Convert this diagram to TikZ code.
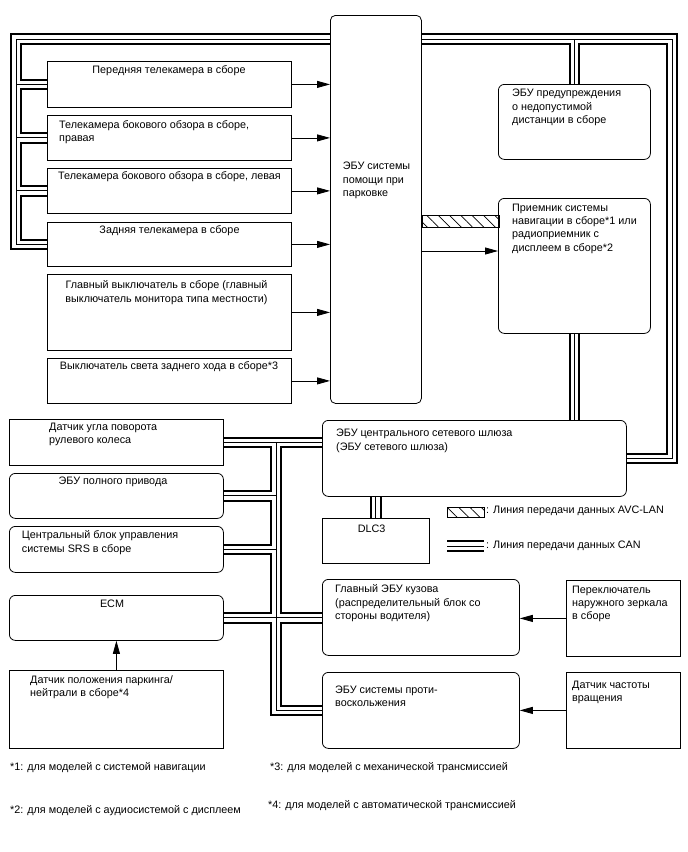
\documentclass[tikz,border=0pt]{standalone}
\usepackage{fontspec}
\setmainfont{Liberation Sans}
\usetikzlibrary{arrows.meta,positioning,backgrounds,patterns.meta}

\begin{document}
\begin{tikzpicture}[x=1pt,y=-1pt,font=\fontsize{10.8}{13.3}\selectfont,>={Triangle[length=13pt,width=7pt]}]
    \tikzset{box/.style={draw,line width=0.8pt,fill=white,anchor=north west,inner sep=0pt,minimum width=244pt,minimum height=45pt},
      rbox/.style={box,rounded corners=6pt},
      txt/.style={inner sep=0pt,align=left,anchor=north west},
      ctxt/.style={inner sep=0pt,align=center,anchor=north},
      can/.style={draw=white,line width=7.5pt,preaction={draw=black,line width=11.5pt},postaction={draw=black,line width=0.9pt}},
      avc/.style={draw,line width=0.8pt,inner sep=0pt,anchor=north west,pattern={Lines[angle=-45,distance=8pt,line width=0.7pt]}},
      sig/.style={->,line width=0.8pt}}
    \useasboundingbox (0,0) rectangle (688,852);
    % cameras and switches
    \node[box,minimum height=46pt] (frontcam) at (47,61) {};
    \node[box] (rightcam) at (47,115) {};
    \node[box] (leftcam) at (47,168) {};
    \node[box,minimum height=44pt] (rearcam) at (47,222) {};
    \node[box,minimum height=76pt] (mainsw) at (47,274) {};
    \node[box] (revsw) at (47,358) {};
    \node[ctxt] (frontcamt) at (169,65.5) {Передняя телекамера в сборе};
    \node[txt] (rightcamt) at (59,120.5) {Телекамера бокового обзора в сборе,\\правая};
    \node[ctxt] (leftcamt) at (169.5,171.5) {Телекамера бокового обзора в сборе, левая};
    \node[ctxt] (rearcamt) at (169.5,225) {Задняя телекамера в сборе};
    \node[ctxt] (mainswt) at (166.5,280.5) {Главный выключатель в сборе (главный\\выключатель монитора типа местности)};
    \node[ctxt] (revswt) at (169,361.5) {Выключатель света заднего хода в сборе*3};
    % ECUs
    \node[box,rounded corners=5pt,minimum width=91pt,minimum height=388pt] (pecu) at (330,15) {};
    \node[txt] (pecut) at (342.7,162) {ЭБУ системы\\помощи при\\парковке};
    \node[rbox,minimum width=152pt,minimum height=75pt] (warn) at (498,84) {};
    \node[txt] (warnt) at (512,89) {ЭБУ предупреждения\\о недопустимой\\дистанции в сборе};
    \node[rbox,minimum width=152pt,minimum height=135pt] (nav) at (498,198) {};
    \node[txt] (navt) at (512,203.5) {Приемник системы\\навигации в сборе*1 или\\радиоприемник с\\дисплеем в сборе*2};
    \node[rbox,minimum width=304pt,minimum height=76pt] (gw) at (322,420) {};
    \node[txt] (gwt) at (336,429) {ЭБУ центрального сетевого шлюза\\(ЭБУ сетевого шлюза)};
    \node[box,minimum width=107pt] (dlc) at (322,518) {};
    \node[ctxt] (dlct) at (371.7,525) {DLC3};
    \node[rbox,minimum width=197pt,minimum height=76pt] (body) at (322,579) {};
    \node[txt] (bodyt) at (335,584.5) {Главный ЭБУ кузова\\(распределительный блок со\\стороны водителя)};
    \node[box,minimum width=114pt,minimum height=76pt] (mirror) at (566,580) {};
    \node[txt] (mirrort) at (572,585.5) {Переключатель\\наружного зеркала\\в сборе};
    \node[rbox,minimum width=197pt,minimum height=76pt] (abs) at (322,672) {};
    \node[txt] (abst) at (335,685.5) {ЭБУ системы проти-\\воскольжения};
    \node[box,minimum width=114pt,minimum height=76pt] (speed) at (566,672) {};
    \node[txt] (speedt) at (572,680.5) {Датчик частоты\\вращения};
    \node[box,minimum width=214pt,minimum height=46pt] (steer) at (9,419) {};
    \node[txt] (steert) at (49,423) {Датчик угла поворота\\рулевого колеса};
    \node[rbox,minimum width=214pt] (awd) at (9,473) {};
    \node[ctxt] (awdt) at (113,476.5) {ЭБУ полного привода};
    \node[rbox,minimum width=214pt,minimum height=46pt] (srs) at (9,526) {};
    \node[txt] (srst) at (21.7,530.5) {Центральный блок управления\\системы SRS в сборе};
    \node[rbox,minimum width=214pt] (ecm) at (9,595) {};
    \node[ctxt] (ecmt) at (112,599.5) {ECM};
    \node[box,minimum width=214pt,minimum height=78pt] (park) at (9,670) {};
    \node[txt] (parkt) at (30,675.5) {Датчик положения паркинга/\\нейтрали в сборе*4};
    % legend
    \node[avc,minimum width=37pt,minimum height=10pt] (avckey) at (447,507) {};
    \node[txt,anchor=west] (avckeyt) at (486,511) {: Линия передачи данных AVC-LAN};
    \coordinate (cankeyA) at (447,546);
    \coordinate (cankeyB) at (484,546);
    \node[txt,anchor=west] (cankeyt) at (486,546) {: Линия передачи данных CAN};
    % footnotes
    \node[txt] (foot1) at (10,762.5) {*1: для моделей с системой навигации};
    \node[txt] (foot2) at (10,805.5) {*2: для моделей с аудиосистемой с дисплеем};
    \node[txt] (foot3) at (270,762.5) {*3: для моделей с механической трансмиссией};
    \node[txt] (foot4) at (268,800.5) {*4: для моделей с автоматической трансмиссией};
    % CAN bus
    \coordinate (busTL) at (16,39);
    \coordinate (busTR) at (672,39);
    \coordinate (busML) at (276,442);
    \begin{scope}[on background layer]
      \draw[can] (rearcam.west) -| (busTL) -- (busTR) |- (gw.east)
        (busTL |- frontcam.west) -- (frontcam.west)
        (busTL |- rightcam.west) -- (rightcam.west)
        (busTL |- leftcam.west) -- (leftcam.west)
        (warn.north) -- (warn.north |- busTR)
        (nav.south) -- (nav.south |- gw.north)
        (dlc.north) -- (dlc.north |- gw.south)
        (steer.east) -- (gw.west |- steer.east)
        (busML) |- (abs.west)
        (awd.east) -- (awd.east -| busML)
        (srs.east) -- (srs.east -| busML)
        (ecm.east) -- (ecm.east -| body.west)
        (cankeyA) -- (cankeyB);
    \end{scope}
    % AVC-LAN
    \coordinate (avcin) at (498,215);
    \node[avc,minimum width=77pt,minimum height=12pt] (avcline) at (pecu.east |- avcin) {};
    % signal lines
    \draw[sig] (frontcam.east) -- (frontcam.east -| pecu.west);
    \draw[sig] (rightcam.east) -- (rightcam.east -| pecu.west);
    \draw[sig] (leftcam.east) -- (leftcam.east -| pecu.west);
    \draw[sig] (rearcam.east) -- (rearcam.east -| pecu.west);
    \draw[sig] (mainsw.east) -- (mainsw.east -| pecu.west);
    \draw[sig] (revsw.east) -- (revsw.east -| pecu.west);
    \coordinate (navin) at (498,251);
    \draw[sig] (pecu.east |- navin) -- (navin);
    \draw[sig] (mirror.west) -- (mirror.west -| body.east);
    \draw[sig] (speed.west) -- (speed.west -| abs.east);
    \draw[sig] (park.north) -- (ecm.south);
\end{tikzpicture}
\end{document}
